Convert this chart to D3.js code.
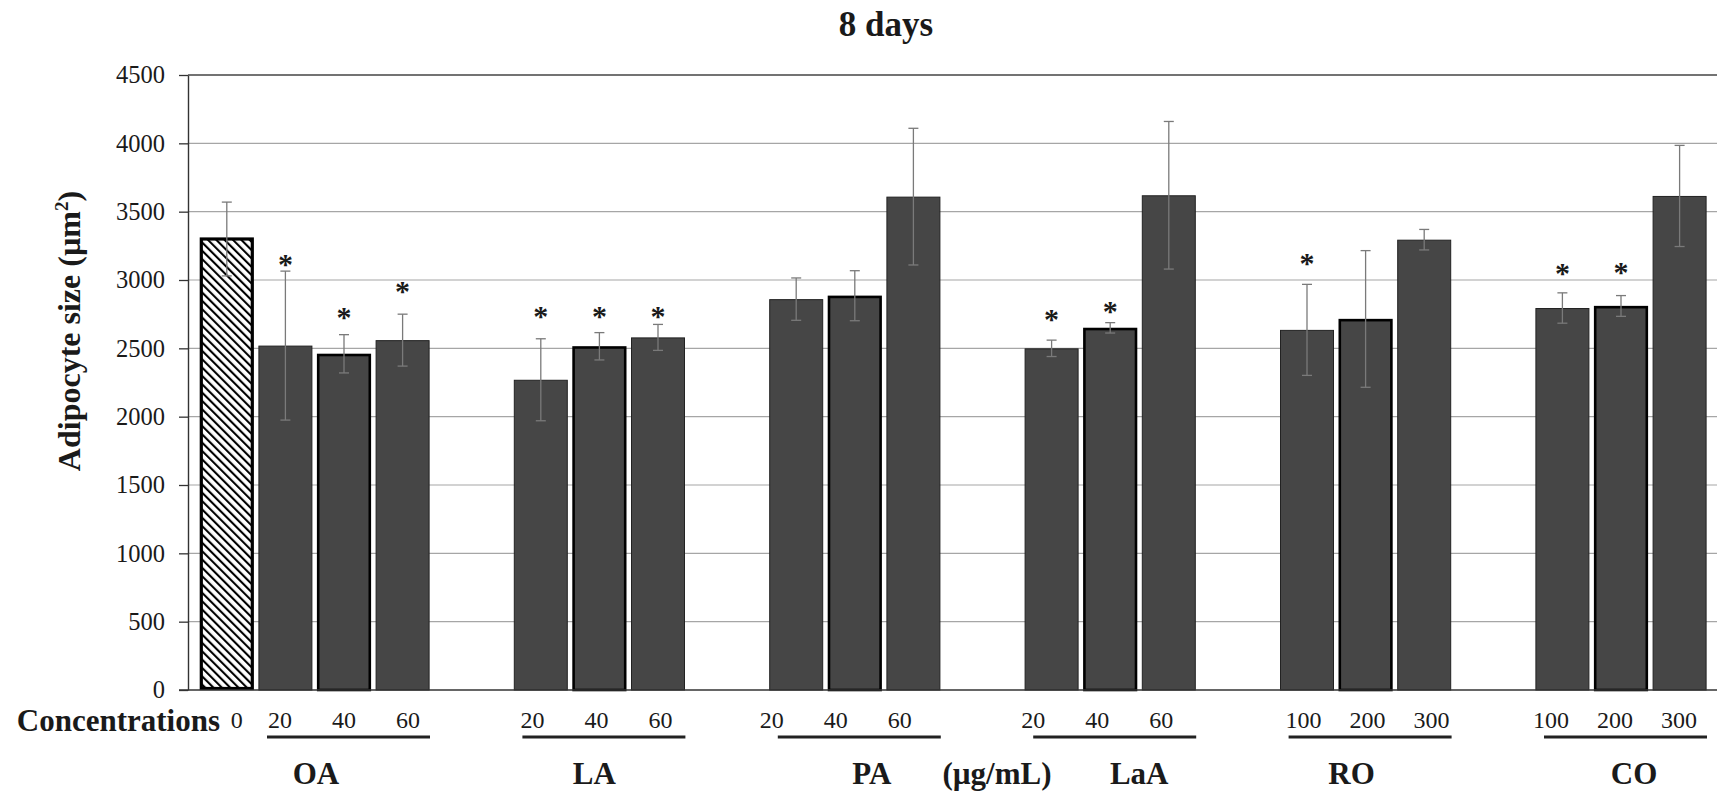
<!DOCTYPE html>
<html>
<head>
<meta charset="utf-8">
<script src="https://cdn.jsdelivr.net/npm/d3@7"></script>
<style>
  html, body { margin: 0; padding: 0; background: #fff; }
</style>
</head>
<body>
<div id="chart"></div>
<script>
// chart data
const groups = ['OA', 'LA', 'PA', 'LaA', 'RO', 'CO'];
const doses = [
    ['20', '40', '60'], ['20', '40', '60'], ['20', '40', '60'],
    ['20', '40', '60'], ['100', '200', '300'], ['100', '200', '300']
];
const means = [
    [2520, 2460, 2560], [2270, 2515, 2580], [2860, 2885, 3610],
    [2500, 2650, 3620], [2635, 2715, 3295], [2795, 2810, 3615]
];
const errs = [
    [545, 140, 190], [300, 100, 95], [155, 183, 500],
    [60, 38, 540], [333, 500, 75], [111, 76, 370]
];
// height (in µm²) where each significance asterisk sits, null = none
const stars = [
    [3146, 2756, 2951], [2768, 2768, 2768], [null, null, null],
    [2744, 2800, null], [3154, null, null], [3078, 3090, null]
];
const controlDose = '0';
const controlMean = 3300;
const controlErr = 270;
const yTicks = [0, 500, 1000, 1500, 2000, 2500, 3000, 3500, 4000, 4500];

const W = 1717, H = 794;
const plotL = 188, plotR = 1717, plotT = 75, plotB = 690;
const barW = 54, pitch = 58.6;
const FONT = '"Liberation Serif", "Times New Roman", Times, serif';

// small hand nudges of the typed labels under the axis
const doseShift = [0, -3, -19, -13, 2, -6];
const nameShift = [-28, -5, 17, 29, -14, 13];

const svg = d3.select('#chart').append('svg')
    .attr('width', W)
    .attr('height', H)
    .attr('font-family', FONT)
    .style('font-family', FONT);

const defs = svg.append('defs');
const pat = defs.append('pattern')
    .attr('id', 'hatch')
    .attr('patternUnits', 'userSpaceOnUse')
    .attr('width', 5.9)
    .attr('height', 10)
    .attr('patternTransform', 'rotate(-45)');
pat.append('rect').attr('width', 5.9).attr('height', 10).attr('fill', '#fff');
pat.append('line')
    .attr('x1', 1).attr('x2', 1).attr('y1', 0).attr('y2', 10)
    .attr('stroke', '#000').attr('stroke-width', 2.2);

const x = d3.scalePoint().domain(groups).range([344, 1621]);
const slot = d3.scaleLinear().domain([-1, 1]).range([-pitch, pitch]);
const y = d3.scaleLinear().domain([0, 4500]).range([plotB, plotT]);

function label(sel, size, bold) {
    return sel.attr('font-family', FONT)
        .attr('font-size', size)
        .attr('font-weight', bold ? 'bold' : 'normal')
        .attr('fill', '#1a1a1a');
}

// title
label(svg.append('text'), 35, true)
    .attr('x', 886).attr('y', 36)
    .attr('text-anchor', 'middle')
    .text('8 days');

// gridlines
svg.append('g')
    .selectAll('line')
    .data(yTicks.filter(d => d > 0))
    .join('line')
    .attr('x1', plotL).attr('x2', plotR)
    .attr('y1', d => y(d)).attr('y2', d => y(d))
    .attr('stroke', d => d === 4500 ? '#444' : '#a6a6a6')
    .attr('stroke-width', d => d === 4500 ? 1.4 : 1.2);

// y axis
const yAxis = svg.append('g')
    .attr('transform', `translate(${plotL},0)`)
    .call(d3.axisLeft(y).tickValues(yTicks).tickFormat(d3.format('d'))
        .tickSize(9).tickSizeOuter(0).tickPadding(14));
yAxis.attr('font-family', FONT);
yAxis.select('.domain').attr('stroke', '#333').attr('stroke-width', 1.4);
yAxis.selectAll('.tick line').attr('stroke', '#333').attr('stroke-width', 1.3);
label(yAxis.selectAll('.tick text'), 24.5, false);

// y label
const yl = label(svg.append('text'), 32, true)
    .attr('transform', 'translate(80,331) rotate(-90)')
    .attr('text-anchor', 'middle');
yl.append('tspan').text('Adipocyte size (µm');
yl.append('tspan').attr('font-size', 19).attr('dy', -12).text('2');
yl.append('tspan').attr('dy', 12).text(')');

// flatten bars
const bars = [];
groups.forEach((g, gi) => {
    doses[gi].forEach((d, di) => {
        bars.push({
            group: g, gi, di, dose: d,
            cx: x(g) + slot(di - 1),
            mean: means[gi][di], err: errs[gi][di], star: stars[gi][di]
        });
    });
});
const control = { group: 'OA', gi: 0, di: -1, dose: controlDose, cx: x('OA') + slot(-2), mean: controlMean, err: controlErr, star: null };

// control bar (hatched)
svg.append('rect')
    .attr('x', control.cx - barW / 2 + 1.5)
    .attr('y', y(control.mean))
    .attr('width', barW - 3)
    .attr('height', y(0) - y(control.mean) - 1.5)
    .attr('fill', 'url(#hatch)')
    .attr('stroke', '#000')
    .attr('stroke-width', 3.2);

// treatment bars
svg.append('g')
    .selectAll('rect')
    .data(bars)
    .join('rect')
    .attr('x', d => d.cx - barW / 2 + (d.di === 1 ? 1.2 : 0.5))
    .attr('y', d => y(d.mean) + (d.di === 1 ? 1.2 : 0.5))
    .attr('width', d => barW - (d.di === 1 ? 2.4 : 1))
    .attr('height', d => y(0) - y(d.mean) - (d.di === 1 ? 1.2 : 0.5))
    .attr('fill', '#464646')
    .attr('stroke', d => d.di === 1 ? '#000' : '#222')
    .attr('stroke-width', d => d.di === 1 ? 2.6 : 1);

// baseline
svg.append('line')
    .attr('x1', plotL - 9).attr('x2', plotR)
    .attr('y1', y(0)).attr('y2', y(0))
    .attr('stroke', '#333').attr('stroke-width', 1.5);

// error bars
const all = [control].concat(bars);
const eb = svg.append('g').attr('stroke', '#7a7a7a').attr('stroke-width', 1.3);
eb.selectAll('line.v').data(all).join('line').attr('class', 'v')
    .attr('x1', d => d.cx).attr('x2', d => d.cx)
    .attr('y1', d => y(d.mean + d.err)).attr('y2', d => y(d.mean - d.err));
eb.selectAll('line.t').data(all).join('line').attr('class', 't')
    .attr('x1', d => d.cx - 5).attr('x2', d => d.cx + 5)
    .attr('y1', d => y(d.mean + d.err)).attr('y2', d => y(d.mean + d.err));
eb.selectAll('line.b').data(all).join('line').attr('class', 'b')
    .attr('x1', d => d.cx - 5).attr('x2', d => d.cx + 5)
    .attr('y1', d => y(d.mean - d.err)).attr('y2', d => y(d.mean - d.err));

// asterisks
label(svg.append('g')
    .selectAll('text')
    .data(bars.filter(d => d.star !== null))
    .join('text'), 30, true)
    .attr('x', d => d.cx)
    .attr('y', d => y(d.star) + 14)
    .attr('text-anchor', 'middle')
    .text('*');

// concentration row
label(svg.append('text'), 31, true)
    .attr('x', 220).attr('y', 731)
    .attr('text-anchor', 'end')
    .text('Concentrations');

label(svg.append('text'), 24, false)
    .attr('x', control.cx + 10).attr('y', 728)
    .attr('text-anchor', 'middle')
    .text(control.dose);

label(svg.append('g')
    .selectAll('text')
    .data(bars)
    .join('text'), 24, false)
    .attr('x', d => x(d.group) + doseShift[d.gi] + (d.di - 1) * 64)
    .attr('y', 728)
    .attr('text-anchor', 'middle')
    .text(d => d.dose);

// group underlines
svg.append('g')
    .selectAll('line')
    .data(groups)
    .join('line')
    .attr('x1', d => x(d) - 77).attr('x2', d => x(d) + 86)
    .attr('y1', 737).attr('y2', 737)
    .attr('stroke', '#222').attr('stroke-width', 3);

// group names
label(svg.append('g')
    .selectAll('text')
    .data(groups)
    .join('text'), 31, true)
    .attr('x', (d, i) => x(d) + nameShift[i])
    .attr('y', 784)
    .attr('text-anchor', 'middle')
    .text(d => d);

label(svg.append('text'), 31, true)
    .attr('x', 997).attr('y', 784)
    .attr('text-anchor', 'middle')
    .text('(µg/mL)');
</script>
</body>
</html>
